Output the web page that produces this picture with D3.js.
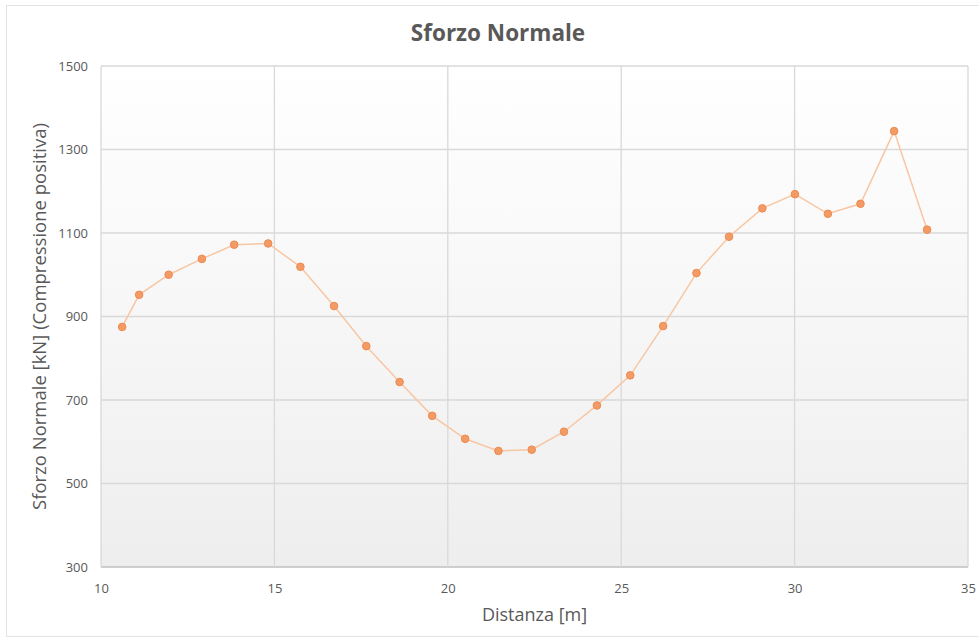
<!DOCTYPE html>
<html>
<head>
<meta charset="utf-8">
<script src="https://cdn.jsdelivr.net/npm/d3@7"></script>
<style>
  html, body { margin: 0; padding: 0; background: #ffffff; }
  svg { display: block; }
</style>
</head>
<body>
<div id="chart"></div>
<script>
// Distance along the element [m]
const distanza = [10.61, 11.10, 11.95, 12.91, 13.84, 14.82, 15.75, 16.72, 17.65, 18.61,
                  19.55, 20.50, 21.46, 22.42, 23.35, 24.30, 25.26, 26.21, 27.17, 28.11,
                  29.07, 30.01, 30.96, 31.90, 32.87, 33.82];
// Normal force [kN], compression positive
const sforzo = [875, 952, 1000, 1038, 1072, 1075, 1019, 925, 829, 743,
                662, 607, 578, 581, 624, 687, 759, 877, 1004, 1091,
                1159, 1193, 1146, 1170, 1344, 1108];
const xTicks = [10, 15, 20, 25, 30, 35];
const yTicks = [300, 500, 700, 900, 1100, 1300, 1500];

const W = 979, H = 638;
const margin = { left: 101, right: 11, top: 66, bottom: 71 };
const font = "'Open Sans', 'Noto Sans', sans-serif";

const svg = d3.select("#chart").append("svg")
  .attr("width", W).attr("height", H);

// outer chart frame
svg.append("rect")
  .attr("x", 6.5).attr("y", 5.5).attr("width", W).attr("height", 631)
  .attr("fill", "#ffffff").attr("stroke", "#e3e3e3").attr("stroke-width", 1);

const x = d3.scaleLinear().domain([10, 35]).range([margin.left, W - margin.right]);
const y = d3.scaleLinear().domain([300, 1500]).range([H - margin.bottom, margin.top]);

// plot area background: soft vertical gradient
const defs = svg.append("defs");
const grad = defs.append("linearGradient").attr("id", "plotBg")
  .attr("x1", 0).attr("y1", 0).attr("x2", 0).attr("y2", 1);
grad.append("stop").attr("offset", "0%").attr("stop-color", "#ffffff");
grad.append("stop").attr("offset", "100%").attr("stop-color", "#eeeeee");

svg.append("rect")
  .attr("x", x(10)).attr("y", y(1500))
  .attr("width", x(35) - x(10)).attr("height", y(300) - y(1500))
  .attr("fill", "url(#plotBg)");

// gridlines
const gridColor = "#d9d9d9";
svg.append("g").selectAll("line").data(yTicks).join("line")
  .attr("x1", x(10)).attr("x2", x(35))
  .attr("y1", d => y(d)).attr("y2", d => y(d))
  .attr("stroke", d => d === 300 ? "#bfbfbf" : gridColor)
  .attr("stroke-width", 1.3);
svg.append("g").selectAll("line").data(xTicks).join("line")
  .attr("x1", d => x(d)).attr("x2", d => x(d))
  .attr("y1", y(1500)).attr("y2", y(300))
  .attr("stroke", gridColor).attr("stroke-width", 1.3);

// axes (labels only, lines drawn as gridlines)
const xAxis = svg.append("g")
  .attr("transform", `translate(0,${y(300)})`)
  .call(d3.axisBottom(x).tickValues(xTicks).tickSize(0).tickPadding(17).tickFormat(d3.format("d")));
const yAxis = svg.append("g")
  .attr("transform", `translate(${x(10)},0)`)
  .call(d3.axisLeft(y).tickValues(yTicks).tickSize(0).tickPadding(13).tickFormat(d3.format("d")));
[xAxis, yAxis].forEach(g => {
  g.select(".domain").remove();
  g.selectAll("text")
    .attr("fill", "#595959")
    .style("font-family", font)
    .style("font-size", "13px");
});

// title
svg.append("text")
  .attr("x", 498).attr("y", 41)
  .attr("text-anchor", "middle")
  .attr("fill", "#595959")
  .style("font-family", font)
  .style("font-size", "22.5px")
  .style("font-weight", "bold")
  .text("Sforzo Normale");

// axis titles
svg.append("text")
  .attr("x", (x(10) + x(35)) / 2).attr("y", 621)
  .attr("text-anchor", "middle")
  .attr("fill", "#595959")
  .style("font-family", font)
  .style("font-size", "18px")
  .text("Distanza [m]");

svg.append("text")
  .attr("transform", `translate(46,${(y(300) + y(1500)) / 2}) rotate(-90)`)
  .attr("text-anchor", "middle")
  .attr("fill", "#595959")
  .style("font-family", font)
  .style("font-size", "18.5px")
  .text("Sforzo Normale [kN] (Compressione positiva)");

// series line
const pts = distanza.map((d, i) => [d, sforzo[i]]);
svg.append("path")
  .datum(pts)
  .attr("fill", "none")
  .attr("stroke", "#f8c6a3")
  .attr("stroke-width", 1.5)
  .attr("d", d3.line().x(d => x(d[0])).y(d => y(d[1])));

// markers
svg.append("g").selectAll("circle").data(pts).join("circle")
  .attr("cx", d => x(d[0])).attr("cy", d => y(d[1]))
  .attr("r", 3.8)
  .attr("fill", "#f39b66")
  .attr("stroke", "#ee8a4e")
  .attr("stroke-width", 1);
</script>
</body>
</html>
